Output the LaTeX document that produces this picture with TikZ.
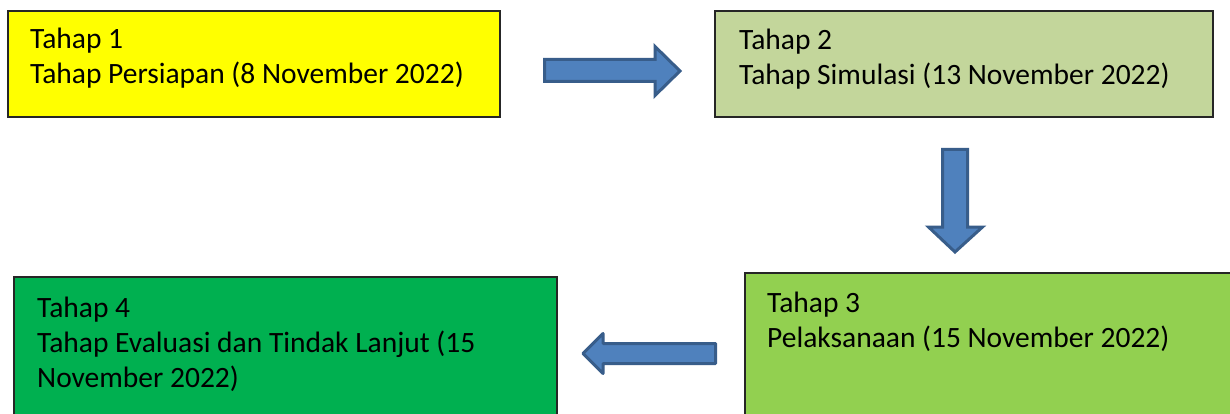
\documentclass[tikz,border=0pt]{standalone}
\usepackage{fontspec}
\setmainfont{Carlito}
\definecolor{boxyellow}{HTML}{FFFF00}
\definecolor{boxsage}{HTML}{C3D69B}
\definecolor{boxlime}{HTML}{92D050}
\definecolor{boxgreen}{HTML}{00B050}
\definecolor{arrowfill}{HTML}{4F81BD}
\definecolor{arrowline}{HTML}{385D8A}
\tikzset{
  stagebox/.style={draw=black!85, line width=1.6pt},
  stagetext/.style={anchor=base west, align=left, inner sep=0pt,
    font=\fontsize{29.5}{35}\selectfont},
  blockarrow/.style={fill=arrowfill, draw=arrowline, line width=3pt, line join=miter},
}
\begin{document}
\begin{tikzpicture}[x=1pt,y=-1pt]
\useasboundingbox (0,0) rectangle (1230,414);
\clip (0,0) rectangle (1230,414);
\fill[white] (0,0) rectangle (1230,414);
% boxes
\draw[stagebox, fill=boxyellow] (8,11) rectangle (500,117);
\draw[stagebox, fill=boxsage] (715,11) rectangle (1213,117);
\draw[stagebox, fill=boxlime] (745,273) rectangle (1245,430);
\draw[stagebox, fill=boxgreen] (14,277) rectangle (557,430);
% texts (anchor = baseline of last line)
\node[stagetext] (t1) at (30,84) {Tahap 1\\Tahap Persiapan (8 November 2022)};
\node[stagetext] (t2) at (739,85) {Tahap 2\\Tahap Simulasi (13 November 2022)};
\node[stagetext] (t3) at (767,347) {Tahap 3\\Pelaksanaan (15 November 2022)};
\node[stagetext] (t4) at (37,387) {Tahap 4\\Tahap Evaluasi dan Tindak Lanjut (15\\November 2022)};
% block arrows
\draw[blockarrow] (544.5,59.5) -- (655,59.5) -- (655,46.5) -- (680,71) -- (655,95.5) -- (655,81.5) -- (544.5,81.5) -- cycle;
\draw[blockarrow] (942.5,149.5) -- (967.5,149.5) -- (967.5,227) -- (982.5,227) -- (955,252) -- (928.5,227) -- (942.5,227) -- cycle;
\draw[blockarrow, line join=round] (715.5,343.5) -- (603,343.5) -- (603,333.5) -- (583,353.5) -- (603,373.5) -- (603,363.5) -- (715.5,363.5) -- cycle;
\end{tikzpicture}
\end{document}
